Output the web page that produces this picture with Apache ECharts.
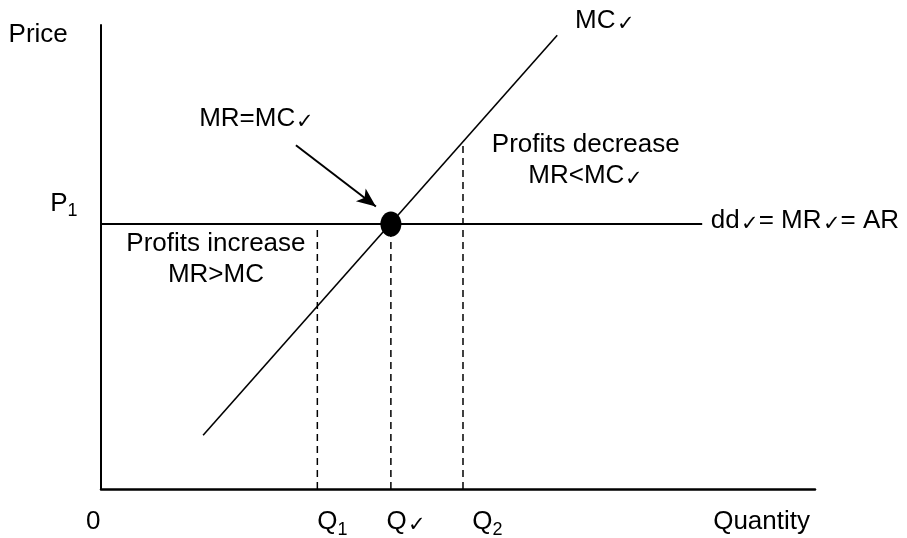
<!DOCTYPE html>
<html>
<head>
<meta charset="utf-8">
<script src="https://cdn.jsdelivr.net/npm/echarts@6/dist/echarts.min.js"></script>
<style>
html,body{margin:0;padding:0;background:#fff;}
#chart{width:907px;height:538px;}
</style>
</head>
<body>
<div id="chart"></div>
<script>
// ---- data (arbitrary 0..100 units) ----
const priceP1 = 57.1;                 // P1 level (dd = MR = AR)
const mrLineEnd = 84.2;               // quantity where MR line stops
const mcPoints = [[14.3, 11.6], [63.9, 97.8]];   // MC curve
const qValues = [30.3, 40.6, 50.7];   // Q1, Q*, Q2
const qDashTops = [57.1, 57.1, 75.0]; // top of each dashed drop line
const equilibrium = [40.6, 57.1];     // MR = MC point
const arrowFrom = [27.3, 74.1];
const arrowTo = [38.5, 60.9];
const xTickLabels = ['0', 'Q1', 'Q✓', 'Q2', 'Quantity'];
const yTickLabels = ['Price', 'P1'];
const annotationTexts = ['MR=MC✓', 'MC✓', 'Profits increase\nMR>MC', 'Profits decrease\nMR<MC✓', 'dd✓= MR✓= AR'];

// ---- helpers ----
const FONT = "'Liberation Sans', Arial, Helvetica, sans-serif";
function rich(str) {
  return str.split('\n').map(function (line) {
    let m = line.match(/^([PQ])([12])$/);
    if (m) return '{t|' + m[1] + '}{sub|' + m[2] + '}';
    return line.split('✓').map(function (s) { return s ? '{t|' + s + '}' : ''; }).join('{ck|✓}');
  }).join('\n');
}
const richStyles = {
  t: {fontSize: 26, fontFamily: FONT, color: '#000', verticalAlign: 'top', lineHeight: 31, textBorderWidth: 0},
  sub: {fontSize: 18, fontFamily: FONT, color: '#000', verticalAlign: 'top', padding: [12, 0, 0, 0], textBorderWidth: 0},
  ck: {fontSize: 21, fontFamily: "'DejaVu Sans', sans-serif", fontWeight: 200, color: '#000', verticalAlign: 'top', padding: [6, 0, 0, 1], lineHeight: 31, textBorderWidth: 0}
};

// label layout (text anchor in data units + alignment)
const labelLayout = [
  {text: yTickLabels[0], at: [-8.8, 97.4], align: 'center'},
  {text: yTickLabels[1], at: [-5.2, 61.0], align: 'center'},
  {text: xTickLabels[0], at: [-1.1, -7.7], align: 'center'},
  {text: xTickLabels[1], at: [qValues[0], -7.7], align: 'left'},
  {text: xTickLabels[2], at: [qValues[1] - 0.6, -7.7], align: 'left'},
  {text: xTickLabels[3], at: [qValues[2] + 1.3, -7.7], align: 'left'},
  {text: xTickLabels[4], at: [99.3, -7.7], align: 'right'},
  {text: annotationTexts[0], at: [21.8, 79.3], align: 'center'},
  {text: annotationTexts[1], at: [66.4, 100.4], align: 'left'},
  {text: annotationTexts[2], at: [16.1, 48.9], align: 'center'},
  {text: annotationTexts[3], at: [67.9, 70.2], align: 'center'},
  {text: annotationTexts[4], at: [85.4, 57.2], align: 'left'}
];

const series = [];
// MR = AR = dd horizontal line
series.push({
  type: 'line', data: [[0, priceP1], [mrLineEnd, priceP1]], symbol: 'none',
  lineStyle: {color: '#000', width: 2}, silent: true, z: 3
});
// MC line
series.push({
  type: 'line', data: mcPoints, symbol: 'none',
  lineStyle: {color: '#000', width: 1.6}, silent: true, z: 3
});
// dashed drop lines
qValues.forEach(function (q, i) {
  series.push({
    type: 'line', data: [[q, 0], [q, qDashTops[i]]], symbol: 'none',
    lineStyle: {color: '#000', width: 1.5, type: [7, 5]}, silent: true, z: 2
  });
});
// equilibrium dot + arrow
series.push({
  type: 'scatter', data: [equilibrium],
  symbol: 'path://M0,12.5 A10.5,12.5 0 1,0 21,12.5 A10.5,12.5 0 1,0 0,12.5 Z',
  symbolSize: [21, 25], itemStyle: {color: '#000', opacity: 1}, silent: true, z: 5,
  markLine: {
    silent: true, symbol: ['none', 'arrow'], symbolSize: [12, 19],
    label: {show: false},
    lineStyle: {color: '#000', width: 2, type: 'solid', opacity: 1},
    itemStyle: {color: '#000', opacity: 1},
    emphasis: {disabled: true},
    data: [[{coord: arrowFrom}, {coord: arrowTo}]]
  }
});
// text labels
series.push({
  type: 'scatter', clip: false, silent: true, z: 10,
  symbolSize: 1, itemStyle: {color: 'rgba(0,0,0,0)'},
  data: labelLayout.map(function (l) {
    return {
      value: l.at,
      label: {
        show: true, position: 'inside', align: l.align, verticalAlign: 'middle',
        color: '#000', textBorderWidth: 0, opacity: 1,
        formatter: rich(l.text), rich: richStyles, lineHeight: 31
      }
    };
  })
});

const chart = echarts.init(document.getElementById('chart'), null, {renderer: 'canvas'});
chart.setOption({
  animation: false,
  backgroundColor: '#fff',
  grid: {left: 101, right: 92, top: 25, bottom: 49, containLabel: false},
  xAxis: {
    type: 'value', min: 0, max: 100,
    axisLine: {show: true, onZero: false, lineStyle: {color: '#000', width: 2.5}},
    axisTick: {show: false}, axisLabel: {show: false}, splitLine: {show: false}
  },
  yAxis: {
    type: 'value', min: 0, max: 100,
    axisLine: {show: true, onZero: false, lineStyle: {color: '#000', width: 2}},
    axisTick: {show: false}, axisLabel: {show: false}, splitLine: {show: false}
  },
  series: series
});
</script>
</body>
</html>
